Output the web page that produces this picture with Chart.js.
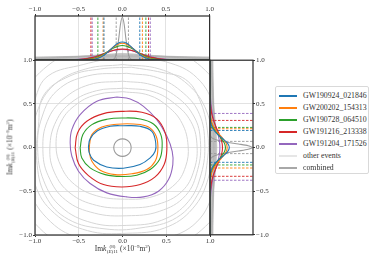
<!DOCTYPE html>
<html><head><meta charset="utf-8">
<script src="https://cdn.jsdelivr.net/npm/chart.js@4"></script>
<style>
html,body{margin:0;padding:0;background:#fff;width:374px;height:264px;overflow:hidden;font-family:"Liberation Serif",serif;color:#333;}
.c{position:absolute;}
.ss{display:inline-flex;flex-direction:column;vertical-align:middle;font-size:5px;line-height:5px;margin-left:0.5px;}
sup{font-size:5px;line-height:0;}
#legend{position:absolute;left:275px;top:86px;width:92px;height:86px;border:1px solid #d9d9d9;border-radius:2px;background:#fff;}
.row{position:absolute;left:0;height:12px;width:92px;}
.ln{position:absolute;left:3px;top:5px;width:18px;height:2px;}
.tx{position:absolute;left:27px;top:0;font-size:7.8px;line-height:12px;white-space:nowrap;color:#333;}
</style></head><body>
<div class="c" style="left:0;top:0;"><canvas id="top" width="215" height="62"></canvas></div>
<div class="c" style="left:0;top:55px;"><canvas id="main" width="215" height="190"></canvas></div>
<div class="c" style="left:205px;top:55px;"><canvas id="right" width="80" height="185"></canvas></div>
<div class="c" style="left:50px;width:145px;top:244px;text-align:center;font-size:7.5px;white-space:nowrap;">Im<i>k</i><span class="ss"><span>(8)</span><span>(<i>E</i>)11</span></span> (×10<sup>−9</sup>m<sup>2</sup>)</div>
<div class="c" style="left:-62px;width:145px;top:142px;text-align:center;font-size:7.5px;white-space:nowrap;transform:rotate(-90deg);">Im<i>k</i><span class="ss"><span>(8)</span><span>(<i>B</i>)11</span></span> (×10<sup>−9</sup>m<sup>2</sup>)</div>
<div id="legend"></div>
<script>
// ---------- data ----------
const tickVals = [-1, -0.5, 0, 0.5, 1];
const tickLabels = ['−1.0', '−0.5', '0.0', '0.5', '1.0'];
const events = ['GW190924_021846', 'GW200202_154313', 'GW190728_064510', 'GW191216_213338', 'GW191204_171526'];

// 2D contours (x, y) for highlighted events
const contourBlue = [[-0.389,0.015],[-0.37,0.10],[-0.29,0.19],[-0.14,0.244],[0.01,0.25],[0.20,0.244],[0.335,0.187],[0.38,0.053],[0.373,-0.042],[0.316,-0.118],[0.20,-0.194],[0.01,-0.236],[-0.18,-0.221],[-0.33,-0.145],[-0.38,-0.06],[-0.389,0.015]];
const contourOrange = [[-0.377,0.034],[-0.35,0.149],[-0.236,0.236],[-0.065,0.267],[0.126,0.27],[0.297,0.236],[0.385,0.13],[0.404,-0.023],[0.373,-0.156],[0.278,-0.251],[0.107,-0.30],[-0.084,-0.309],[-0.255,-0.259],[-0.35,-0.156],[-0.377,-0.061],[-0.377,0.034]];
const contourGreen = [[-0.484,-0.004],[-0.453,0.149],[-0.35,0.263],[-0.179,0.324],[0.011,0.339],[0.202,0.328],[0.354,0.27],[0.438,0.149],[0.453,0.008],[0.423,-0.137],[0.316,-0.251],[0.164,-0.316],[-0.008,-0.331],[-0.198,-0.309],[-0.37,-0.232],[-0.465,-0.118],[-0.484,-0.004]];
const contourRed = [[-0.541,-0.004],[-0.514,0.168],[-0.408,0.301],[-0.217,0.389],[0.011,0.415],[0.221,0.404],[0.392,0.328],[0.488,0.168],[0.507,-0.023],[0.476,-0.194],[0.373,-0.335],[0.202,-0.423],[-0.008,-0.45],[-0.217,-0.423],[-0.389,-0.32],[-0.503,-0.183],[-0.541,-0.004]];
const contourPurple = [[-0.065,0.579],[-0.293,0.53],[-0.484,0.377],[-0.579,0.206],[-0.598,0.053],[-0.579,-0.099],[-0.503,-0.27],[-0.37,-0.411],[-0.179,-0.518],[0.05,-0.564],[0.24,-0.564],[0.411,-0.499],[0.526,-0.366],[0.575,-0.194],[0.568,-0.042],[0.507,0.13],[0.392,0.32],[0.24,0.472],[0.088,0.556],[-0.065,0.579]];
const contourCombined = [[0.1,0],[0.087,0.05],[0.05,0.087],[0,0.1],[-0.05,0.087],[-0.087,0.05],[-0.1,0],[-0.087,-0.05],[-0.05,-0.087],[0,-0.1],[0.05,-0.087],[0.087,-0.05],[0.1,0]];
const contourOthers = [
  [[0,0.64],[0.3,0.6],[0.52,0.47],[0.68,0.28],[0.75,0.02],[0.72,-0.22],[0.6,-0.42],[0.35,-0.56],[0.02,-0.59],[-0.3,-0.55],[-0.55,-0.42],[-0.7,-0.22],[-0.76,0.03],[-0.7,0.3],[-0.52,0.5],[-0.28,0.61],[0,0.64]],
  [[0.02,0.68],[0.35,0.64],[0.6,0.5],[0.78,0.3],[0.85,0.05],[0.82,-0.25],[0.68,-0.5],[0.4,-0.65],[0.05,-0.69],[-0.3,-0.66],[-0.6,-0.52],[-0.78,-0.28],[-0.83,0.0],[-0.76,0.3],[-0.58,0.52],[-0.3,0.65],[0.02,0.68]],
  [[0,0.76],[0.33,0.72],[0.62,0.58],[0.82,0.35],[0.89,0.08],[0.86,-0.25],[0.72,-0.55],[0.42,-0.73],[0.05,-0.78],[-0.32,-0.75],[-0.65,-0.6],[-0.85,-0.32],[-0.91,-0.02],[-0.86,0.3],[-0.68,0.55],[-0.38,0.72],[0,0.76]],
  [[0.05,0.85],[0.4,0.8],[0.7,0.62],[0.88,0.38],[0.94,0.05],[0.9,-0.3],[0.75,-0.62],[0.45,-0.83],[0.05,-0.89],[-0.35,-0.86],[-0.7,-0.68],[-0.9,-0.38],[-0.97,0.0],[-0.92,0.35],[-0.75,0.65],[-0.4,0.82],[0.05,0.85]],
  [[0.1,0.92],[0.45,0.86],[0.72,0.78],[0.88,0.55],[0.97,0.2],[0.97,-0.15],[0.88,-0.5],[0.62,-0.8],[0.2,-0.92],[-0.2,-0.93],[-0.62,-0.82],[-0.88,-0.55],[-0.98,-0.15],[-0.96,0.25],[-0.9,0.6],[-0.6,0.82],[-0.25,0.9],[0.1,0.92]],
  [[0,0.95],[0.42,0.9],[0.75,0.72],[0.96,0.42],[1.02,0.05],[0.98,-0.35],[0.8,-0.7],[0.48,-0.92],[0.05,-0.98],[-0.4,-0.95],[-0.78,-0.75],[-1.0,-0.42],[-1.05,0.0],[-0.98,0.4],[-0.78,0.72],[-0.42,0.9],[0,0.95]],
  [[0,1.05],[0.5,0.98],[0.85,0.8],[1.05,0.45],[1.1,0.0],[1.05,-0.45],[0.85,-0.85],[0.45,-1.05],[0,-1.1],[-0.45,-1.05],[-0.82,-0.85],[-1.08,-0.45],[-1.12,0.0],[-1.0,0.55],[-0.85,0.82],[-0.45,0.95],[0,1.05]],
  [[0,1.22],[0.55,1.12],[0.95,0.88],[1.18,0.5],[1.25,0],[1.2,-0.5],[0.95,-0.9],[0.52,-1.15],[0,-1.22],[-0.55,-1.15],[-0.95,-0.92],[-1.2,-0.5],[-1.25,0.05],[-1.15,0.55],[-0.9,0.9],[-0.5,1.12],[0,1.22]]
];

// 1D marginals (grid positions and densities)
const margGrid = [-1,-0.8,-0.6,-0.5,-0.4,-0.35,-0.3,-0.25,-0.2,-0.15,-0.1,-0.05,0,0.05,0.1,0.15,0.2,0.25,0.3,0.35,0.4,0.5,0.6,0.8,1];
const topBlue   = [0,0,0,0,0.004,0.011,0.029,0.065,0.126,0.211,0.305,0.381,0.41,0.381,0.305,0.211,0.126,0.065,0.029,0.011,0.004,0,0,0,0];
const topOrange = [0,0,0,0.001,0.006,0.017,0.038,0.077,0.137,0.214,0.294,0.356,0.38,0.356,0.294,0.214,0.137,0.077,0.038,0.017,0.006,0.001,0,0,0];
const topGreen  = [0,0,0,0.0025,0.015,0.030,0.057,0.097,0.151,0.213,0.272,0.314,0.33,0.314,0.272,0.213,0.151,0.097,0.057,0.030,0.015,0.0025,0,0,0];
const topRed    = [0,0,0.003,0.011,0.034,0.054,0.081,0.114,0.152,0.189,0.221,0.242,0.25,0.242,0.221,0.189,0.152,0.114,0.081,0.054,0.034,0.011,0.003,0,0];
const topPurple = [0,0,0.004,0.014,0.039,0.060,0.086,0.118,0.152,0.186,0.214,0.233,0.24,0.233,0.214,0.186,0.152,0.118,0.086,0.060,0.039,0.014,0.004,0,0];
const rightBlue   = [0,0,0,0,0,0.003,0.011,0.034,0.086,0.178,0.298,0.406,0.45,0.406,0.298,0.178,0.086,0.034,0.011,0.003,0,0,0,0,0];
const rightOrange = [0,0,0,0,0.005,0.014,0.034,0.072,0.134,0.216,0.304,0.374,0.40,0.374,0.304,0.216,0.134,0.072,0.034,0.014,0.005,0,0,0,0];
const rightGreen  = [0,0,0,0,0.003,0.010,0.025,0.057,0.110,0.185,0.268,0.334,0.36,0.334,0.268,0.185,0.110,0.057,0.025,0.010,0.003,0,0,0,0];
const rightRed    = [0,0,0.003,0.011,0.035,0.058,0.089,0.128,0.171,0.216,0.254,0.281,0.29,0.281,0.254,0.216,0.171,0.128,0.089,0.058,0.035,0.011,0.003,0,0];
const rightPurple = [0,0.002,0.008,0.022,0.051,0.072,0.098,0.127,0.158,0.186,0.209,0.225,0.23,0.225,0.209,0.186,0.158,0.127,0.098,0.072,0.051,0.022,0.008,0.002,0];
const combGrid = [-1,-0.2,-0.15,-0.12,-0.1,-0.08,-0.06,-0.04,-0.02,0,0.02,0.04,0.06,0.08,0.1,0.12,0.15,0.2,1];
const topCombined   = [0,0,0,0.003,0.016,0.071,0.223,0.504,0.824,0.97,0.824,0.504,0.223,0.071,0.016,0.003,0,0,0];
const rightCombined = [0,0,0.004,0.028,0.083,0.202,0.403,0.661,0.888,0.98,0.888,0.661,0.403,0.202,0.083,0.028,0.004,0,0];
const otherGrid = [-1,-0.75,-0.5,-0.25,0,0.25,0.5,0.75,1];
const topOthers = [
  [0.05,0.07,0.09,0.11,0.12,0.11,0.09,0.07,0.05],
  [0.06,0.07,0.08,0.09,0.09,0.09,0.08,0.07,0.06],
  [0.03,0.05,0.08,0.12,0.15,0.12,0.08,0.05,0.03],
  [0.07,0.075,0.08,0.085,0.085,0.085,0.08,0.075,0.07],
  [0.02,0.04,0.07,0.11,0.14,0.11,0.07,0.04,0.02],
  [0.04,0.06,0.08,0.10,0.11,0.10,0.08,0.06,0.04]
];
const rightOthers = [
  [0.05,0.07,0.09,0.12,0.13,0.12,0.09,0.07,0.05],
  [0.06,0.065,0.075,0.09,0.095,0.09,0.075,0.065,0.06],
  [0.03,0.05,0.08,0.13,0.16,0.13,0.08,0.05,0.03],
  [0.07,0.075,0.08,0.085,0.09,0.085,0.08,0.075,0.07],
  [0.02,0.04,0.07,0.12,0.15,0.12,0.07,0.04,0.02],
  [0.04,0.06,0.08,0.10,0.12,0.10,0.08,0.06,0.04]
];
// 5% / 95% quantile markers
const topLo = [-0.21,-0.22,-0.28,-0.36,-0.345];
const topHi = [0.20,0.23,0.27,0.30,0.32];
const rightLo = [-0.17,-0.235,-0.20,-0.33,-0.375];
const rightHi = [0.195,0.215,0.23,0.31,0.39];
const combTopQ = [-0.07, 0.07];
const combRightQ = [-0.07, 0.07];

// ---------- styles ----------
const eventColors = ['#1f77b4','#ff7f0e','#2ca02c','#d62728','#9467bd'];
const otherLine = '#d6d6d6';
const combinedColor = '#9a9a9a';
const tickFont = {family:'"Liberation Serif", serif', size:7};
const tickColor = '#333';
const gridColor = '#e2e2e2';

Chart.defaults.font.family = '"Liberation Serif", serif';

const frame = {id:'frame', afterDatasetsDraw(chart){
  const {ctx, chartArea:a} = chart;
  ctx.save(); ctx.strokeStyle = '#2b2b2b'; ctx.lineWidth = 1.2;
  ctx.strokeRect(a.left, a.top, a.right - a.left, a.bottom - a.top);
  ctx.restore();
}};
const setTicks = s => { s.ticks = tickVals.map(v => ({value: v})); };
const fmt = v => { const i = tickVals.indexOf(v); return i >= 0 ? tickLabels[i] : ''; };
const pairs = arr => arr.map(([x, y]) => ({x, y}));

// ---------- main panel ----------
const contours = [contourBlue, contourOrange, contourGreen, contourRed, contourPurple];
const mainSets = [];
contours.forEach((c, i) => mainSets.push({data: pairs(c), borderColor: eventColors[i], borderWidth: 1.1}));
mainSets.push({data: pairs(contourCombined), borderColor: combinedColor, borderWidth: 1.1});
contourOthers.forEach(c => mainSets.push({data: pairs(c), borderColor: otherLine, borderWidth: 1}));

new Chart(document.getElementById('main'), {
  type: 'line',
  data: {datasets: mainSets},
  options: {
    responsive: false, animation: false,
    layout: {padding: {left: 0, top: 5, right: 5, bottom: 0}},
    plugins: {legend: {display: false}, tooltip: {enabled: false}},
    elements: {point: {radius: 0}, line: {tension: 0.4, capBezierPoints: false, fill: false}},
    scales: {
      x: {type: 'linear', min: -1, max: 1, afterBuildTicks: setTicks, afterFit: s => { s.height = 10; },
          ticks: {font: tickFont, color: tickColor, padding: 0, maxRotation: 0, autoSkip: false, callback: fmt},
          grid: {color: gridColor, tickColor: '#333', tickLength: 2}, border: {display: false}},
      y: {type: 'linear', min: -1, max: 1, afterBuildTicks: setTicks, afterFit: s => { s.width = 35; },
          ticks: {font: tickFont, color: tickColor, padding: 1, autoSkip: false, callback: fmt},
          grid: {color: gridColor, tickColor: '#333', tickLength: 2}, border: {display: false}}
    }
  },
  plugins: [frame]
});

// ---------- top marginal ----------
const topMarg = [topBlue, topOrange, topGreen, topRed, topPurple];
const topSets = [];
topMarg.forEach((m, i) => topSets.push({data: margGrid.map((x, k) => ({x, y: m[k]})), borderColor: eventColors[i], borderWidth: 1.1, cubicInterpolationMode: 'monotone'}));
topSets.push({data: combGrid.map((x, k) => ({x, y: topCombined[k]})), borderColor: combinedColor, borderWidth: 1.1, cubicInterpolationMode: 'monotone'});
topLo.forEach((q, i) => topSets.push({data: [{x: q, y: 0}, {x: q, y: 1}], borderColor: eventColors[i], borderWidth: 0.9, borderDash: [2.5, 1.5], tension: 0}));
topHi.forEach((q, i) => topSets.push({data: [{x: q, y: 0}, {x: q, y: 1}], borderColor: eventColors[i], borderWidth: 0.9, borderDash: [2.5, 1.5], tension: 0}));
combTopQ.forEach(q => topSets.push({data: [{x: q, y: 0}, {x: q, y: 1}], borderColor: combinedColor, borderWidth: 0.9, borderDash: [2.5, 1.5], tension: 0}));
topOthers.forEach(m => topSets.push({data: otherGrid.map((x, k) => ({x, y: m[k]})), borderColor: 'rgba(175,175,175,0.6)', borderWidth: 0.8, backgroundColor: 'rgba(170,170,170,0.2)', fill: 'origin', cubicInterpolationMode: 'monotone'}));

new Chart(document.getElementById('top'), {
  type: 'line',
  data: {datasets: topSets},
  options: {
    responsive: false, animation: false,
    layout: {padding: {left: 35, top: 0, right: 5, bottom: 2}},
    plugins: {legend: {display: false}, tooltip: {enabled: false}},
    elements: {point: {radius: 0}, line: {fill: false}},
    scales: {
      x: {type: 'linear', position: 'top', min: -1, max: 1, afterBuildTicks: setTicks, afterFit: s => { s.height = 16; },
          ticks: {font: tickFont, color: tickColor, padding: 1, maxRotation: 0, autoSkip: false, callback: fmt},
          grid: {color: gridColor, tickColor: '#333', tickLength: 2}, border: {display: false}},
      y: {type: 'linear', min: 0, max: 1, display: false}
    }
  },
  plugins: [frame]
});

// ---------- right marginal ----------
const rightMarg = [rightBlue, rightOrange, rightGreen, rightRed, rightPurple];
const rightSets = [];
rightMarg.forEach((m, i) => rightSets.push({data: margGrid.map((y, k) => ({x: m[k], y})), borderColor: eventColors[i], borderWidth: 1.1, cubicInterpolationMode: 'monotone'}));
rightSets.push({data: combGrid.map((y, k) => ({x: rightCombined[k], y})), borderColor: combinedColor, borderWidth: 1.1, cubicInterpolationMode: 'monotone'});
rightLo.forEach((q, i) => rightSets.push({data: [{x: 0, y: q}, {x: 1, y: q}], borderColor: eventColors[i], borderWidth: 0.9, borderDash: [2.5, 1.5], tension: 0}));
rightHi.forEach((q, i) => rightSets.push({data: [{x: 0, y: q}, {x: 1, y: q}], borderColor: eventColors[i], borderWidth: 0.9, borderDash: [2.5, 1.5], tension: 0}));
combRightQ.forEach(q => rightSets.push({data: [{x: 0, y: q}, {x: 1, y: q}], borderColor: combinedColor, borderWidth: 0.9, borderDash: [2.5, 1.5], tension: 0}));
rightOthers.forEach(m => rightSets.push({data: otherGrid.map((y, k) => ({x: m[k], y})), borderColor: 'rgba(175,175,175,0.6)', borderWidth: 0.8, backgroundColor: 'rgba(170,170,170,0.2)', fill: 'origin', cubicInterpolationMode: 'monotone'}));

new Chart(document.getElementById('right'), {
  type: 'line',
  data: {datasets: rightSets},
  options: {
    indexAxis: 'y',
    responsive: false, animation: false,
    layout: {padding: {left: 5, top: 5, right: 0, bottom: 5}},
    plugins: {legend: {display: false}, tooltip: {enabled: false}},
    elements: {point: {radius: 0}, line: {fill: false}},
    scales: {
      x: {type: 'linear', min: 0, max: 1, display: false},
      y: {type: 'linear', position: 'right', min: -1, max: 1, afterBuildTicks: setTicks, afterFit: s => { s.width = 32; },
          ticks: {font: tickFont, color: tickColor, padding: 1, autoSkip: false, callback: fmt},
          grid: {color: gridColor, tickColor: '#333', tickLength: 2}, border: {display: false}}
    }
  },
  plugins: [frame]
});

// ---------- legend ----------
const legendNames = [...events, 'other events', 'combined'];
const legendColors = [...eventColors, '#e6e6e6', '#a8a8a8'];
const lg = document.getElementById('legend');
legendNames.forEach((n, i) => {
  const r = document.createElement('div'); r.className = 'row'; r.style.top = (2.5 + i * 12) + 'px';
  const l = document.createElement('div'); l.className = 'ln'; l.style.background = legendColors[i];
  const t = document.createElement('div'); t.className = 'tx'; t.textContent = n;
  r.appendChild(l); r.appendChild(t); lg.appendChild(r);
});
</script>
</body></html>
